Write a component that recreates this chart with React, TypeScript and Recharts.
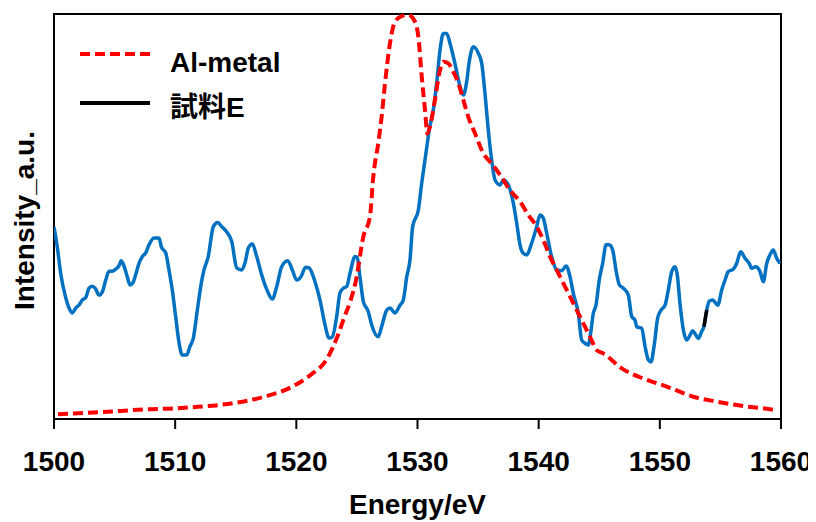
import React from 'react';
import { LineChart, Line, XAxis, YAxis, ReferenceArea, Label } from 'recharts';

const FONT = '"Liberation Sans", Arial, "Noto Sans CJK JP", sans-serif';

const energyTicks = [1500, 1510, 1520, 1530, 1540, 1550, 1560];

const alMetalEnergy = [
  1500.33, 1503.3, 1505.5, 1507.7, 1509.9, 1511.83, 1513.76, 1515.95, 1517.6, 1519.54,
  1521.18, 1522.56, 1523.38, 1523.93, 1524.49, 1524.9, 1525.53, 1526.08, 1526.35, 1526.76,
  1527.04, 1527.32, 1527.73, 1528.14, 1528.7, 1529.24, 1529.79, 1530.07, 1530.35, 1530.62,
  1530.81, 1531.03, 1531.44, 1531.8, 1532.13, 1532.54, 1532.95, 1533.37, 1533.78, 1534.19,
  1534.75, 1535.43, 1536.12, 1536.81, 1537.63, 1538.46, 1539.14, 1539.84, 1540.38, 1540.94,
  1541.62, 1542.31, 1543.14, 1543.82, 1544.24, 1544.79, 1545.33, 1546.85, 1548.63, 1550.57,
  1552.76, 1554.69, 1556.89, 1559.09, 1559.5,
];
const alMetalIntensity = [
  1.2, 1.6, 2.0, 2.4, 2.6, 3.0, 3.5, 4.5, 5.7, 7.8,
  10.9, 15.0, 20.3, 24.9, 29.4, 33.9, 45.0, 50.0, 59.8, 68.1,
  74.6, 82.9, 92.8, 98.1, 99.5, 99.8, 98.1, 94.4, 84.5, 76.3,
  70.5, 72.2, 78.8, 85.4, 88.2, 87.8, 85.8, 82.9, 78.8, 74.6,
  70.5, 65.6, 63.1, 60.3, 56.5, 53.7, 50.4, 47.5, 44.2, 40.1,
  36.0, 31.9, 26.9, 22.8, 20.3, 17.0, 16.2, 12.5, 10.0, 8.0,
  5.5, 4.3, 3.2, 2.4, 2.2,
];

const sampleEEnergy = [
  1500.0, 1500.27, 1500.55, 1500.97, 1501.24, 1501.51, 1501.79, 1502.06, 1502.34, 1502.62,
  1502.89, 1503.16, 1503.44, 1503.71, 1503.99, 1504.27, 1504.54, 1504.81, 1505.09, 1505.36,
  1505.55, 1505.83, 1506.05, 1506.27, 1506.5, 1506.74, 1507.02, 1507.29, 1507.57, 1507.84,
  1508.25, 1508.67, 1508.86, 1509.22, 1509.49, 1509.76, 1510.04, 1510.32, 1510.59, 1510.95,
  1511.22, 1511.5, 1511.83, 1512.16, 1512.38, 1512.73, 1513.15, 1513.51, 1513.84, 1514.25,
  1514.67, 1515.08, 1515.49, 1515.76, 1516.04, 1516.37, 1516.73, 1517.14, 1517.64, 1518.02,
  1518.38, 1518.79, 1519.29, 1519.67, 1520.03, 1520.38, 1520.77, 1521.05, 1521.54, 1521.95,
  1522.37, 1522.7, 1522.97, 1523.33, 1523.6, 1523.88, 1524.16, 1524.43, 1524.84, 1525.03,
  1525.25, 1525.53, 1525.94, 1526.22, 1526.76, 1527.04, 1527.46, 1527.73, 1528.14, 1528.56,
  1528.83, 1529.11, 1529.38, 1529.6, 1530.07, 1530.35, 1530.62, 1530.81, 1530.97, 1531.3,
  1531.58, 1531.86, 1532.13, 1532.41, 1532.68, 1533.09, 1533.51, 1533.78, 1534.06, 1534.25,
  1534.61, 1535.02, 1535.3, 1535.57, 1535.84, 1536.12, 1536.4, 1536.81, 1537.08, 1537.49,
  1537.91, 1538.19, 1538.46, 1538.73, 1539.01, 1539.42, 1539.84, 1540.11, 1540.38, 1540.66,
  1541.07, 1541.49, 1541.9, 1542.26, 1542.59, 1542.86, 1543.27, 1543.55, 1543.82, 1544.1,
  1544.29, 1544.51, 1544.73, 1545.0, 1545.28, 1545.56, 1545.83, 1546.11, 1546.38, 1546.66,
  1546.99, 1547.4, 1547.68, 1547.95, 1548.09, 1548.5, 1548.78, 1549.05, 1549.27, 1549.54,
  1549.82, 1550.1, 1550.43, 1550.7, 1550.98, 1551.25, 1551.44, 1551.66, 1551.94, 1552.22,
  1552.49, 1552.71, 1552.98, 1553.17, 1553.45, 1553.64, 1553.87, 1554.08, 1554.36, 1554.78,
  1555.11, 1555.38, 1555.65, 1556.06, 1556.34, 1556.67, 1557.03, 1557.38, 1557.58, 1557.91,
  1558.27, 1558.54, 1558.82, 1559.09, 1559.36, 1559.64, 1559.92,
];
const sampleEIntensity = [
  47.4, 42.5, 36.0, 29.9, 27.4, 26.2, 27.4, 28.1, 29.4, 30.0,
  32.3, 32.8, 32.1, 30.6, 31.4, 34.3, 36.5, 36.5, 37.0, 37.8,
  39.1, 37.3, 35.1, 33.1, 33.6, 35.6, 38.5, 40.1, 41.0, 43.0,
  44.7, 44.7, 42.5, 41.0, 36.8, 31.9, 25.3, 18.8, 15.8, 15.8,
  17.9, 20.0, 26.9, 33.6, 36.8, 40.1, 47.5, 48.5, 47.5, 46.2,
  43.8, 37.3, 36.8, 38.5, 42.2, 43.2, 40.1, 35.6, 31.4, 29.6,
  32.7, 37.6, 39.1, 36.8, 34.3, 35.1, 37.5, 37.3, 33.9, 29.4,
  23.2, 20.0, 20.3, 25.3, 31.1, 32.3, 32.7, 36.0, 40.1, 39.8,
  35.1, 29.0, 26.5, 23.2, 20.3, 22.8, 26.9, 27.4, 26.2, 28.1,
  29.4, 35.1, 39.3, 47.5, 51.6, 58.3, 64.0, 68.1, 71.4, 76.3,
  82.9, 91.1, 95.2, 95.2, 92.8, 87.8, 82.1, 80.0, 83.3, 87.8,
  91.9, 90.3, 87.8, 80.4, 71.4, 64.0, 59.0, 57.8, 59.0, 57.8,
  53.3, 48.3, 43.0, 40.9, 40.5, 43.4, 47.5, 50.4, 49.6, 45.9,
  40.1, 36.8, 36.6, 37.8, 35.1, 31.0, 26.1, 19.5, 18.7, 18.3,
  21.2, 26.1, 28.1, 34.3, 38.4, 43.0, 43.0, 41.7, 36.8, 33.1,
  32.3, 30.6, 25.3, 24.4, 22.8, 22.4, 17.9, 14.6, 14.1, 18.3,
  24.9, 26.9, 28.1, 31.9, 36.4, 37.6, 35.6, 28.6, 22.0, 19.5,
  20.7, 21.8, 20.7, 19.9, 21.6, 22.8, 26.9, 29.1, 29.4, 28.1,
  31.9, 34.3, 36.4, 37.0, 38.4, 41.3, 39.7, 38.4, 37.2, 37.6,
  36.4, 33.9, 38.4, 40.5, 41.7, 39.7, 38.4,
];

// short stretch of the sample series drawn in black in the original
const blackSegmentEnergy = [1553.64, 1553.87];
const blackSegmentIntensity = [22.8, 26.9];

const zip = (xs: number[], ys: number[]) => xs.map((e, i) => ({ e, v: ys[i] }));
const alMetalData = zip(alMetalEnergy, alMetalIntensity);
const sampleEData = zip(sampleEEnergy, sampleEIntensity);
const blackSegmentData = zip(blackSegmentEnergy, blackSegmentIntensity);

const legendItems = [
  { name: 'Al-metal', color: '#FF0000', dash: '10 5' },
  { name: '試料E', color: '#000000', dash: undefined as string | undefined },
];

const textStyle = { fontFamily: FONT, fontSize: 28, fontWeight: 700 };

const XTitle = (props: any) => {
  const vb = props.viewBox || { x: 54, y: 419, width: 727, height: 103 };
  return (
    <text x={vb.x + vb.width / 2} y={vb.y + 95} textAnchor="middle" fill="#000" style={textStyle}>
      Energy/eV
    </text>
  );
};

const YTitle = (props: any) => {
  const vb = props.viewBox || { x: 0, y: 14, width: 54, height: 405 };
  const bx = 34;
  const cy = vb.y + vb.height / 2 + 4;
  return (
    <text x={bx} y={cy} transform={`rotate(-90, ${bx}, ${cy})`} textAnchor="middle" fill="#000" style={textStyle}>
      Intensity_a.u.
    </text>
  );
};

// legend drawn inside the plot, at the upper left
const LegendBox = (props: any) => {
  const vb = props.viewBox || { x: 0, y: 14, width: 54, height: 405 };
  const x0 = 80;
  const rowsY = [vb.y + 40, vb.y + 89];
  const textY = [vb.y + 58, vb.y + 103];
  return (
    <g>
      {legendItems.map((it, i) => (
        <g key={it.name}>
          <line x1={x0} x2={x0 + 70} y1={rowsY[i]} y2={rowsY[i]} stroke={it.color} strokeWidth={4}
            strokeDasharray={it.dash} />
          <text x={x0 + 90} y={textY[i]} fill="#000" style={textStyle}>{it.name}</text>
        </g>
      ))}
    </g>
  );
};

export default function App() {
  return (
    <div style={{ width: 816, height: 522, margin: '-8px 0 0 -8px', overflow: 'hidden' }}>
      <LineChart width={816} height={522} margin={{ top: 14, right: 35, bottom: 0, left: 0 }}>
        <XAxis type="number" dataKey="e" domain={[1500, 1560]} ticks={energyTicks} interval={0}
          allowDataOverflow height={103} tickSize={10} tickMargin={22}
          axisLine={{ stroke: '#000', strokeWidth: 2 }} tickLine={{ stroke: '#000', strokeWidth: 2 }}
          tick={{ fill: '#000', fontSize: 28, fontWeight: 700, fontFamily: FONT }}>
          <Label content={XTitle} />
        </XAxis>
        <YAxis type="number" dataKey="v" domain={[0, 100]} allowDataOverflow width={54}
          tick={false} axisLine={false} tickLine={false}>
          <Label content={YTitle} />
          <Label content={LegendBox} />
        </YAxis>
        <ReferenceArea x1={1500} x2={1560} y1={0} y2={100} fill="none" fillOpacity={0}
          stroke="#000" strokeWidth={2} ifOverflow="visible" />
        <Line data={sampleEData} dataKey="v" name="試料E" type="monotone" stroke="#0070C0" strokeWidth={3.5}
          dot={false} activeDot={false} isAnimationActive={false} legendType="none" />
        <Line data={blackSegmentData} dataKey="v" name="seg" type="linear" stroke="#000" strokeWidth={3.5}
          dot={false} activeDot={false} isAnimationActive={false} legendType="none" />
        <Line data={alMetalData} dataKey="v" name="Al-metal" type="monotone" stroke="#FF0000" strokeWidth={4}
          strokeDasharray="10 5" dot={false} activeDot={false} isAnimationActive={false} legendType="none" />
      </LineChart>
    </div>
  );
}
